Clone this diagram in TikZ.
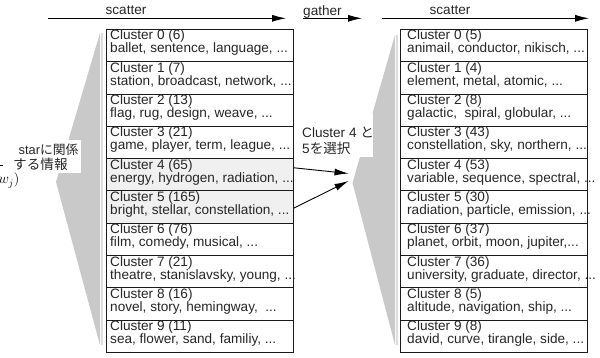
\documentclass[tikz,border=0pt]{standalone}
\usepackage{fontspec}
\setmainfont{Liberation Sans}
\newfontfamily\jpfont{Noto Sans CJK JP}
\usetikzlibrary{arrows.meta}
\definecolor{fangray}{HTML}{C9C9C9}
\definecolor{stripgray}{HTML}{DDDDDD}
\definecolor{selrow}{HTML}{F0F0F0}
\definecolor{edgecol}{HTML}{1A1A1A}
\begin{document}
\begin{tikzpicture}[x=1pt,y=-1pt,
  font=\fontsize{13.6}{13.6}\selectfont,
  rowbox/.style={draw=edgecol, line width=0.9pt, minimum width=187pt, minimum height=32.3pt, inner sep=0pt, anchor=north west},
  txt/.style={anchor=base west, inner sep=0pt, text=black!85},
  arr/.style={-{Latex[length=14pt,width=7pt]}, line width=0.9pt, draw=black},
  jp/.style={anchor=base west, inner sep=0pt, text=black!85},
  whitebox/.style={fill=white, draw=none, inner sep=0pt, anchor=north east}]
\useasboundingbox (0,0) rectangle (600,358);

% gray fan shapes
\fill[fill=fangray] (100,33) -- (56,182) -- (100,345) -- cycle;
\draw[draw=stripgray, line width=2pt] (102,33) -- (102,345);
\fill[fill=fangray] (395,35) -- (352.5,183) -- (395,345) -- cycle;
\draw[draw=stripgray, line width=2pt] (397,35) -- (397,345);

% label boxes (white)
\node[whitebox, minimum width=84pt, minimum height=33pt] (lblL) at (80.7,140) {};
\node[whitebox, minimum width=80pt, minimum height=44pt] (lblR) at (373,113) {};
\node[jp, font=\fontsize{12.8}{12.8}\selectfont] (lblL1) at (18.5,155) {star{\jpfont に関係}};
\node[jp] (lblL2) at (13,169.5) {\jpfont する情報};
\node[jp] (lblR1) at (302,138) {Cluster 4 {\jpfont と}};
\node[jp] (lblR2) at (302,153.5) {5{\jpfont を選択}};

% fragments at the left edge
\node[anchor=base east, inner sep=0pt] (frag) at (19.5,184) {$(w_j)$};
\coordinate (dashA) at (0,165);
\coordinate (dashB) at (2.5,165);
\draw[line width=0.6pt] (dashA) -- (dashB);

% left cluster list
\foreach \i/\f/\a/\b in {
  0/white/{Cluster 0 (6)}/{ballet, sentence, language, ...},
  1/white/{Cluster 1 (7)}/{station, broadcast, network, ...},
  2/white/{Cluster 2 (13)}/{flag, rug, design, weave, ...},
  3/white/{Cluster 3 (21)}/{game, player, term, league, ...},
  4/selrow/{Cluster 4 (65)}/{energy, hydrogen, radiation, ...},
  5/selrow/{Cluster 5 (165)}/{bright, stellar, constellation, ...},
  6/white/{Cluster 6 (76)}/{film, comedy, musical, ...},
  7/white/{Cluster 7 (21)}/{theatre, stanislavsky, young, ...},
  8/white/{Cluster 8 (16)}/{novel, story, hemingway,\ \ ...},
  9/white/{Cluster 9 (11)}/{sea, flower, sand, familiy, ...}} {
  \node[rowbox, fill=\f] (L\i) at (106,{29+32.3*\i}) {};
  \node[txt] (La\i) at (110,{29+32.3*\i+10.9}) {\a};
  \node[txt] (Lb\i) at (110,{29+32.3*\i+24}) {\b};
}

% right cluster list
\foreach \i/\a/\b in {
  0/{Cluster 0 (5)}/{animail, conductor, nikisch, ...},
  1/{Cluster 1 (4)}/{element, metal, atomic, ...},
  2/{Cluster 2 (8)}/{galactic,\ \ spiral, globular, ...},
  3/{Cluster 3 (43)}/{constellation, sky, northern, ...},
  4/{Cluster 4 (53)}/{variable, sequence, spectral, ...},
  5/{Cluster 5 (30)}/{radiation, particle, emission, ...},
  6/{Cluster 6 (37)}/{planet, orbit, moon, jupiter,...},
  7/{Cluster 7 (36)}/{university, graduate, director, ...},
  8/{Cluster 8 (5)}/{altitude, navigation, ship, ...},
  9/{Cluster 9 (8)}/{david, curve, tirangle, side, ...}} {
  \node[rowbox] (R\i) at (400,{29+32.3*\i}) {};
  \node[txt] (Ra\i) at (407,{29+32.3*\i+10.9}) {\a};
  \node[txt] (Rb\i) at (407,{29+32.3*\i+24}) {\b};
}

% selection arrows
\coordinate (tipA) at (348.5,173.5);
\coordinate (tipB) at (348.5,181);
\draw[arr] ([yshift=7pt]L4.east) -- (tipA);
\draw[arr] ([yshift=-1pt]L5.east) -- (tipB);

% top arrows
\coordinate (s1a) at (48,18.3);
\coordinate (s1b) at (286,18.3);
\coordinate (g1a) at (303,18.3);
\coordinate (g1b) at (362,18.3);
\coordinate (s2a) at (382,18.3);
\coordinate (s2b) at (589,18.3);
\draw[arr] (s1a) -- (s1b);
\draw[arr] (g1a) -- (g1b);
\draw[arr] (s2a) -- (s2b);
\node[anchor=base, inner sep=0pt, text=black!85] (s1l) at (126,15) {scatter};
\node[anchor=base west, inner sep=0pt, text=black!85] (g1l) at (303,15.5) {gather};
\node[anchor=base, inner sep=0pt, text=black!85] (s2l) at (450,15) {scatter};
\end{tikzpicture}
\end{document}
